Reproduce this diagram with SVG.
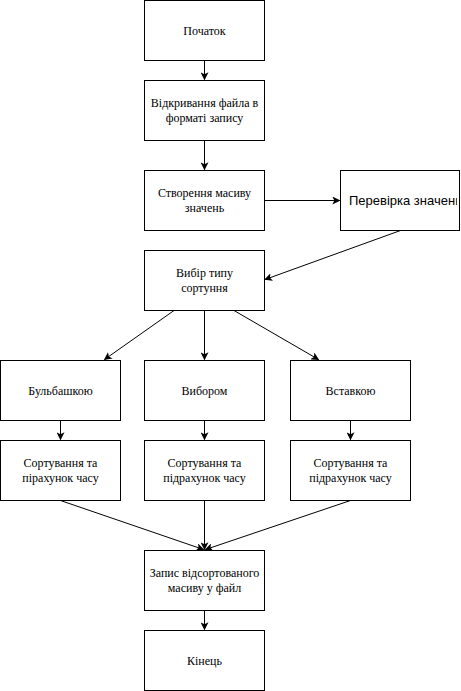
<svg xmlns="http://www.w3.org/2000/svg" width="461" height="691" viewBox="0 0 461 691">
<style>
.box{fill:#fff;stroke:#000;stroke-width:1}
.t{font-family:'Liberation Serif','Times New Roman','DejaVu Serif',serif;font-size:12px;fill:#000;text-anchor:middle}
.s{font-family:'Liberation Sans',Arial,sans-serif;font-size:13px;fill:#000}
.c{fill:none;stroke:#000;stroke-width:1;marker-end:url(#ah)}
</style>
<defs>
<marker id="ah" viewBox="0 0 10 10" refX="9" refY="5" markerWidth="8" markerHeight="8" markerUnits="userSpaceOnUse" orient="auto">
<path d="M0,0 L10,5 L0,10 L2.5,5 Z" fill="#000"/>
</marker>
<clipPath id="cp"><rect x="340" y="170" width="117" height="60"/></clipPath>
</defs>
<rect width="461" height="691" fill="#fff"/>
<g id="connectors">
<path class="c" d="M204.5,60.5 V79.5"/>
<path class="c" d="M204.5,140.5 V169.5"/>
<path class="c" d="M264.5,200.5 H339.5"/>
<path class="c" d="M400.5,230.5 L265,279.5"/>
<path class="c" d="M174,310.5 L104.5,359.5"/>
<path class="c" d="M204.5,310.5 V359.5"/>
<path class="c" d="M234,310.5 L318.5,359.5"/>
<path class="c" d="M60.5,420.5 V439.5"/>
<path class="c" d="M204.5,420.5 V439.5"/>
<path class="c" d="M350.5,420.5 V439.5"/>
<path class="c" d="M60.5,500.5 L203.5,549.5"/>
<path class="c" d="M204.5,500.5 V549.5"/>
<path class="c" d="M350.5,500.5 L205.5,549.5"/>
<path class="c" d="M204.5,610.5 V629.5"/>
</g>
<g id="start"><rect class="box" x="144.5" y="0.5" width="120" height="60"/><text class="t" x="204.5" y="34.5">Початок</text></g>
<g id="open"><rect class="box" x="144.5" y="80.5" width="120" height="60"/><text class="t" x="204.5" y="107">Відкривання файла в</text><text class="t" x="204.5" y="121.5">форматі запису</text></g>
<g id="create"><rect class="box" x="144.5" y="170.5" width="120" height="60"/><text class="t" x="204.5" y="197">Створення масиву</text><text class="t" x="204.5" y="211.5">значень</text></g>
<g id="check"><rect class="box" x="340.5" y="170.5" width="119" height="60"/><text class="s" x="349" y="205" clip-path="url(#cp)">Перевірка значень</text></g>
<g id="choose"><rect class="box" x="144.5" y="250.5" width="120" height="60"/><text class="t" x="204.5" y="277">Вибір типу</text><text class="t" x="204.5" y="291.5">сортуння</text></g>
<g id="bubble"><rect class="box" x="0.5" y="360.5" width="120" height="60"/><text class="t" x="60.5" y="394.5">Бульбашкою</text></g>
<g id="select"><rect class="box" x="144.5" y="360.5" width="120" height="60"/><text class="t" x="204.5" y="394.5">Вибором</text></g>
<g id="insert"><rect class="box" x="290.5" y="360.5" width="120" height="60"/><text class="t" x="350.5" y="394.5">Вставкою</text></g>
<g id="sort1"><rect class="box" x="0.5" y="440.5" width="120" height="60"/><text class="t" x="60.5" y="467">Сортування та</text><text class="t" x="60.5" y="481.5">пірахунок часу</text></g>
<g id="sort2"><rect class="box" x="144.5" y="440.5" width="120" height="60"/><text class="t" x="204.5" y="467">Сортування та</text><text class="t" x="204.5" y="481.5">підрахунок часу</text></g>
<g id="sort3"><rect class="box" x="290.5" y="440.5" width="120" height="60"/><text class="t" x="350.5" y="467">Сортування та</text><text class="t" x="350.5" y="481.5">підрахунок часу</text></g>
<g id="write"><rect class="box" x="144.5" y="550.5" width="120" height="60"/><text class="t" x="204.5" y="577">Запис відсортованого</text><text class="t" x="204.5" y="591.5">масиву у файл</text></g>
<g id="end"><rect class="box" x="144.5" y="630.5" width="120" height="60"/><text class="t" x="204.5" y="664.5">Кінець</text></g>
</svg>
